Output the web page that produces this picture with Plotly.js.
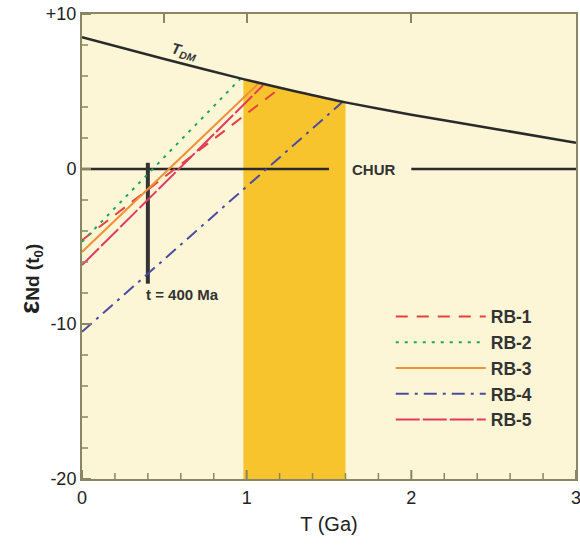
<!DOCTYPE html>
<html>
<head>
<meta charset="utf-8">
<script src="https://cdn.plot.ly/plotly-3.0.1.min.js"></script>
<style>html,body{margin:0;padding:0;background:#fff;}#chart{width:580px;height:546px;}</style>
</head>
<body>
<div id="chart"></div>
<script>
// ---- data ----
const tdmT = [0, 0.5, 0.98, 1.3, 1.6, 2.0, 2.5, 3.0];      // T (Ga)
const tdmE = [8.5, 7.1, 5.8, 5.0, 4.3, 3.5, 2.6, 1.7];     // depleted-mantle eNd
const bandT = [0.98, 1.6];                                  // highlighted model-age range
const churSegmentsT = [[0, 1.5], [2.0, 3.0]];               // CHUR line pieces (gap for label)
const churE = 0;
const samples = ['RB-1', 'RB-2', 'RB-3', 'RB-4', 'RB-5'];
const sampleE0 = [-4.6, -4.7, -5.35, -10.5, -6.2];          // eNd at T = 0
const sampleTEnd = [1.2, 0.96, 1.07, 1.58, 1.10];           // model age (meets TDM)
const sampleEEnd = [5.2, 5.8, 5.5, 4.3, 5.4];
const markerT = [0.4, 0.4];                                  // t = 400 Ma bar
const markerE = [0.4, -7.4];
const xTickVals = [0, 1, 2, 3];
const xTickText = ['0', '1', '2', '3'];
const xMinorVals = [0.2, 0.4, 0.6, 0.8, 1.2, 1.4, 1.6, 1.8, 2.2, 2.4, 2.6, 2.8];
const yTickVals = [-20, -10, 0, 10];
const yTickText = ['-20', '-10', '0', '+10'];
const yMinorVals = [-18, -16, -14, -12, -8, -6, -4, -2, 2, 4, 6, 8];
const topTickVals = [0.5, 1, 2];
const xRange = [0, 3];
const yRange = [-20, 10];

// ---- styles ----
const colors = ['#E6403E', '#1FA653', '#F0903A', '#4B4BA3', '#E23A60'];
const dashes = ['12px,9px', '3px,6px', 'solid', '13px,6px,3px,6px', '24px,3px'];
const frame = '#8A8662';
const ink = '#2A2A2A';
const fontFam = 'Liberation Sans, Arial, sans-serif';
const W = 580, H = 546, M = {l: 82, r: 4, t: 14, b: 67};
const plotW = W - M.l - M.r, plotH = H - M.t - M.b;
const majorLen = 9, minorLen = 6;

const traces = [];

// band polygon (top follows TDM points within band)
const bx = [], by = [];
for (let i = 0; i < tdmT.length; i++) {
  if (tdmT[i] >= bandT[0] && tdmT[i] <= bandT[1]) { bx.push(tdmT[i]); by.push(tdmE[i]); }
}
bx.push(bandT[1], bandT[0]); by.push(yRange[0], yRange[0]);
traces.push({x: bx, y: by, mode: 'lines', fill: 'toself', fillcolor: '#F8C42E',
  line: {width: 0, color: '#F8C42E'}, showlegend: false, hoverinfo: 'skip'});

// CHUR
churSegmentsT.forEach(seg => {
  traces.push({x: seg, y: [churE, churE], mode: 'lines', line: {color: ink, width: 2.5},
    showlegend: false, hoverinfo: 'skip'});
});

// t = 400 Ma bar
traces.push({x: markerT, y: markerE, mode: 'lines', line: {color: '#333', width: 4},
  showlegend: false, hoverinfo: 'skip'});

// sample evolution lines
samples.forEach((s, i) => {
  traces.push({x: [0, sampleTEnd[i]], y: [sampleE0[i], sampleEEnd[i]], mode: 'lines', name: s,
    line: {color: colors[i], width: 2, dash: dashes[i]}});
});

// TDM curve
traces.push({x: tdmT, y: tdmE, mode: 'lines', line: {color: ink, width: 2.5, shape: 'spline', smoothing: 0.6},
  showlegend: false, hoverinfo: 'skip'});

// invisible anchor for the top tick axis
traces.push({x: xRange, y: [churE, churE], xaxis: 'x2', yaxis: 'y', mode: 'lines', line: {width: 0},
  opacity: 0, showlegend: false, hoverinfo: 'skip'});

// inside ticks on bottom and left axes, placed through the axes' scales
const shapes = [];
const xTick = (v, len, w) => shapes.push({type: 'line', xref: 'x', yref: 'y domain', x0: v, x1: v,
  y0: 0, y1: len / plotH, line: {color: frame, width: w}, layer: 'above'});
const yTick = (v, len, w) => shapes.push({type: 'line', xref: 'x domain', yref: 'y', y0: v, y1: v,
  x0: 0, x1: len / plotW, line: {color: frame, width: w}, layer: 'above'});
xTickVals.forEach(v => xTick(v, majorLen, 2));
xMinorVals.forEach(v => xTick(v, minorLen, 1.5));
yTickVals.forEach(v => yTick(v, majorLen, 2));
yMinorVals.forEach(v => yTick(v, minorLen, 1.5));

const layout = {
  width: W, height: H,
  margin: M,
  paper_bgcolor: '#ffffff',
  plot_bgcolor: '#FCF6D6',
  font: {family: fontFam, color: '#222'},
  showlegend: true,
  legend: {x: 0.625, y: 0.388, xanchor: 'left', yanchor: 'top', bgcolor: 'rgba(0,0,0,0)',
    itemwidth: 90, font: {size: 17.5, color: '#333', family: fontFam, weight: 'bold'}, tracegroupgap: 0},
  xaxis: {range: xRange, tickmode: 'array', tickvals: xTickVals, ticktext: xTickText, ticks: '',
    showline: true, mirror: true, linecolor: frame, linewidth: 2,
    showgrid: false, zeroline: false, tickfont: {size: 18, color: '#222'}, ticklabeloverflow: 'allow',
    ticklabelstandoff: 1,
    title: {text: 'T (Ga)', font: {size: 20, color: '#222'}, standoff: 10}},
  xaxis2: {range: xRange, overlaying: 'x', side: 'top', anchor: 'y', tickmode: 'array', tickvals: topTickVals,
    ticks: 'inside', ticklen: majorLen, tickwidth: 2, tickcolor: frame, showticklabels: false,
    showline: false, showgrid: false, zeroline: false},
  yaxis: {range: yRange, tickmode: 'array', tickvals: yTickVals, ticktext: yTickText, ticks: '',
    showline: true, mirror: true, linecolor: frame, linewidth: 2,
    showgrid: false, zeroline: false, tickfont: {size: 18, color: '#222'}, ticklabeloverflow: 'allow',
    ticklabelstandoff: 0},
  shapes: shapes,
  annotations: [
    {xref: 'paper', yref: 'paper', x: 0, y: 0.43, xshift: -52, xanchor: 'center', yanchor: 'middle',
     textangle: -90, showarrow: false,
     text: '<b><span style="font-size:28px">ε</span>Nd (t<sub>0</sub>)</b>', font: {size: 19, color: '#222'}},
    {x: 0.62, y: 7.55, text: '<b><i>T<sub>DM</sub></i></b>', textangle: 14, showarrow: false,
     font: {size: 15, color: '#333'}},
    {x: 1.77, y: 0, text: '<b>CHUR</b>', showarrow: false, font: {size: 15, color: '#333'}},
    {x: 0.61, y: -8.1, text: '<b>t = 400 Ma</b>', showarrow: false, font: {size: 15, color: '#333'}}
  ]
};

Plotly.newPlot('chart', traces, layout, {displayModeBar: false, staticPlot: true});
</script>
</body>
</html>
